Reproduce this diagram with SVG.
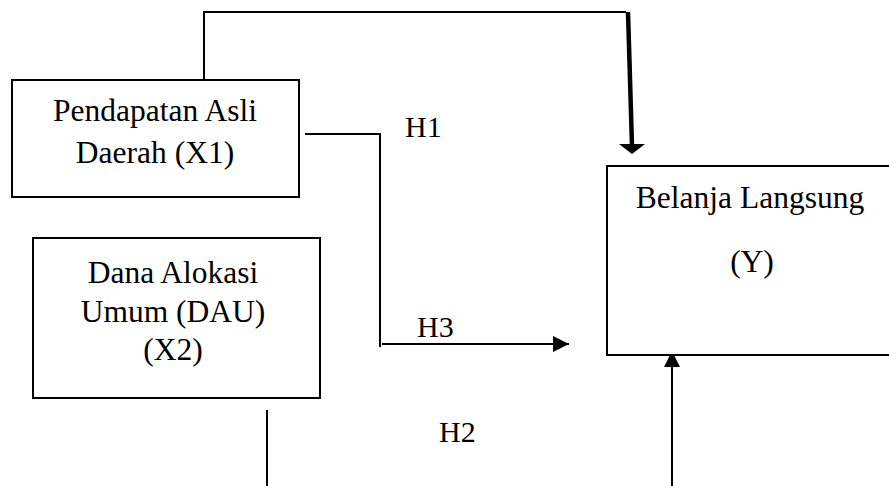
<svg xmlns="http://www.w3.org/2000/svg" width="889" height="486" viewBox="0 0 889 486">
<style>
.box{fill:#fff;stroke:#000;stroke-width:2}
.t{font-family:"Liberation Serif","Times New Roman",serif;font-size:31.5px;fill:#000;text-anchor:middle}
.l{font-family:"Liberation Serif","Times New Roman",serif;font-size:30px;fill:#000}
.c{fill:none;stroke:#000;stroke-width:2}
</style>
<defs>
<marker id="ah" markerUnits="userSpaceOnUse" markerWidth="18" markerHeight="16" refX="16" refY="8" orient="auto">
<path d="M0,0 L16,8 L0,16 Z" fill="#000"/>
</marker>
</defs>
<g id="connectors">
<path class="c" d="M204,79 V12 H626"/>
<line x1="628" y1="12" x2="632" y2="146" stroke="#000" stroke-width="4.5"/>
<polygon points="619,144 645,144 632,154" fill="#000"/>
<path class="c" d="M305,134 H380 V347"/>
<line class="c" x1="382" y1="344" x2="569" y2="344" marker-end="url(#ah)"/>
<line class="c" x1="267" y1="410" x2="267" y2="486"/>
<line class="c" x1="672" y1="486" x2="672" y2="351" marker-end="url(#ah)"/>
</g>
<g id="x1">
<rect class="box" x="12" y="80" width="287" height="117"/>
<text class="t" x="155" y="121">Pendapatan Asli</text>
<text class="t" x="155" y="163">Daerah (X1)</text>
</g>
<g id="x2">
<rect class="box" x="33" y="238" width="287" height="160"/>
<text class="t" x="173" y="283">Dana Alokasi</text>
<text class="t" x="173" y="322">Umum (DAU)</text>
<text class="t" x="173" y="360">(X2)</text>
</g>
<g id="y">
<rect class="box" x="607" y="166" width="290" height="189"/>
<text class="t" x="750" y="208">Belanja Langsung</text>
<text class="t" x="752" y="272">(Y)</text>
</g>
<g id="labels">
<text class="l" x="405" y="137">H1</text>
<text class="l" x="417" y="337">H3</text>
<text class="l" x="439" y="442">H2</text>
</g>
</svg>
